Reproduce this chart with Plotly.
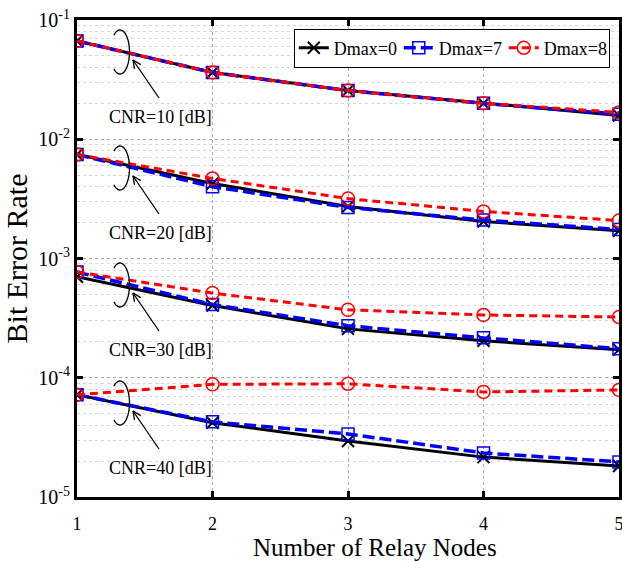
import math
import plotly.graph_objects as go

relay_nodes = [1, 2, 3, 4, 5]
cnr_labels = ["CNR=10 [dB]", "CNR=20 [dB]", "CNR=30 [dB]", "CNR=40 [dB]"]

# Dmax=0 (black)
dmax0_cnr10 = [0.0667, 0.0363, 0.0256, 0.0200, 0.0158]
dmax0_cnr20 = [0.00745, 0.00426, 0.00273, 0.00204, 0.00171]
dmax0_cnr30 = [0.000703, 0.000403, 0.000257, 0.000204, 0.000172]
dmax0_cnr40 = [7.2e-5, 4.2e-5, 2.95e-5, 2.16e-5, 1.82e-5]
# Dmax=7 (blue)
dmax7_cnr10 = [0.0667, 0.0363, 0.0256, 0.0200, 0.0162]
dmax7_cnr20 = [0.00745, 0.0040, 0.00268, 0.0021, 0.00175]
dmax7_cnr30 = [0.00077, 0.000411, 0.000273, 0.000216, 0.000175]
dmax7_cnr40 = [7.2e-5, 4.27e-5, 3.38e-5, 2.34e-5, 1.97e-5]
# Dmax=8 (red)
dmax8_cnr10 = [0.0667, 0.0363, 0.0256, 0.0200, 0.0168]
dmax8_cnr20 = [0.00745, 0.00469, 0.00318, 0.00248, 0.00208]
dmax8_cnr30 = [0.00077, 0.000513, 0.000371, 0.000336, 0.000323]
dmax8_cnr40 = [7.2e-5, 8.8e-5, 8.9e-5, 7.6e-5, 7.9e-5]

y_tickvals = [1e-5, 1e-4, 1e-3, 1e-2, 1e-1]
y_ticktext = ["10<sup>-5</sup>", "10<sup>-4</sup>", "10<sup>-3</sup>", "10<sup>-2</sup>", "10<sup>-1</sup>"]

W, H = 622, 561
ML, MR, MT, MB = 77, 3, 20, 64
FONT = "Liberation Serif"

series = [
    ("Dmax=0", [dmax0_cnr10, dmax0_cnr20, dmax0_cnr30, dmax0_cnr40],
     dict(color="black", width=3), dict(symbol="x-thin-open", size=12, color="black", line=dict(width=2, color="black"))),
    ("Dmax=7", [dmax7_cnr10, dmax7_cnr20, dmax7_cnr30, dmax7_cnr40],
     dict(color="#0000ff", width=3.5, dash="12px,5px"), dict(symbol="square-open", size=12, color="#0000ff", line=dict(width=1.5, color="#0000ff"))),
    ("Dmax=8", [dmax8_cnr10, dmax8_cnr20, dmax8_cnr30, dmax8_cnr40],
     dict(color="#ff0000", width=3, dash="8px,5px"), dict(symbol="circle-open", size=13, color="#ff0000", line=dict(width=1.5, color="#ff0000"))),
]

fig = go.Figure()
for name, groups, line, marker in series:
    for i, vals in enumerate(groups):
        fig.add_trace(go.Scatter(
            x=relay_nodes, y=vals, mode="lines+markers", name=name,
            legendgroup=name, showlegend=(i == 0), line=line, marker=marker,
        ))

# annotation geometry (pixel -> paper)
pw = W - ML - MR
ph = H - MT - MB
def px(xp):
    return (xp - ML) / pw
def py(yp):
    return 1 - (yp - MT) / ph

text_y = [117, 233, 350, 468]
shapes = []
annotations = []
for lbl, ty in zip(cnr_labels, text_y):
    # curl (open ellipse arc)
    cx, cy, rx, ry = 120, ty - 65, 9.5, 22
    pts = []
    n = 40
    a0, a1 = math.radians(130), math.radians(-130)
    for k in range(n + 1):
        a = a0 + (a1 - a0) * k / n
        pts.append((px(cx + rx * math.cos(a)), py(cy - ry * math.sin(a))))
    path = "M " + " L ".join(f"{x:.5f},{y:.5f}" for x, y in pts)
    shapes.append(dict(type="path", xref="paper", yref="paper", path=path,
                       line=dict(color="black", width=1.3)))
    # arrow
    tx, tyy = 133, ty - 57
    sx, sy = 159, ty - 19
    shapes.append(dict(type="line", xref="paper", yref="paper",
                       x0=px(sx), y0=py(sy), x1=px(tx), y1=py(tyy),
                       line=dict(color="black", width=1.3)))
    dx, dy = sx - tx, sy - tyy
    L = math.hypot(dx, dy)
    ux, uy = dx / L, dy / L
    for sgn in (1, -1):
        ang = math.radians(25) * sgn
        hx = ux * math.cos(ang) - uy * math.sin(ang)
        hy = ux * math.sin(ang) + uy * math.cos(ang)
        shapes.append(dict(type="line", xref="paper", yref="paper",
                           x0=px(tx), y0=py(tyy), x1=px(tx + 9 * hx), y1=py(tyy + 9 * hy),
                           line=dict(color="black", width=1.3)))
    annotations.append(dict(xref="paper", yref="paper", x=px(160), y=py(ty),
                            text=lbl, showarrow=False, xanchor="center", yanchor="middle",
                            font=dict(family=FONT, size=18, color="black")))

# x-axis title (placed as in the reference, slightly right of centre)
annotations.append(dict(xref="paper", yref="paper", x=px(375), y=py(547),
                        text="Number of Relay Nodes", showarrow=False,
                        xanchor="center", yanchor="middle",
                        font=dict(family=FONT, size=25, color="black")))

fig.update_layout(
    width=W, height=H,
    margin=dict(l=ML, r=MR, t=MT, b=MB, autoexpand=False),
    paper_bgcolor="white", plot_bgcolor="white",
    font=dict(family=FONT, color="black"),
    shapes=shapes, annotations=annotations,
    legend=dict(orientation="h", x=0.983, xanchor="right", y=0.982, yanchor="top",
                bgcolor="white", bordercolor="black", borderwidth=1,
                entrywidth=60, entrywidthmode="pixels",
                font=dict(family=FONT, size=18, color="black"), tracegroupgap=0),
)
fig.update_xaxes(
    range=[1, 5], tickvals=relay_nodes, ticks="inside", ticklen=6, tickwidth=2.5,
    tickcolor="black", showline=True, linewidth=3, linecolor="black", mirror="ticks",
    showgrid=True, gridcolor="#a8a8a8", griddash="dot", gridwidth=1,
    tickfont=dict(family=FONT, size=18, color="black"),
    ticklabeloverflow="allow", ticklabelstandoff=8,
    zeroline=False,
)
fig.update_yaxes(
    type="log", range=[-5, -1], tickvals=y_tickvals, ticktext=y_ticktext,
    ticks="inside", ticklen=6, tickwidth=2.5, tickcolor="black",
    showline=True, linewidth=3, linecolor="black", mirror="ticks",
    showgrid=True, gridcolor="#a8a8a8", griddash="dot", gridwidth=1,
    minor=dict(dtick="D1", showgrid=True, gridcolor="#d6d6d6", gridwidth=1, ticks=""),
    tickfont=dict(family=FONT, size=20, color="black"),
    title=dict(text="Bit Error Rate", font=dict(family=FONT, size=30, color="black"), standoff=4),
    zeroline=False,
)

fig.write_html("out.html")
